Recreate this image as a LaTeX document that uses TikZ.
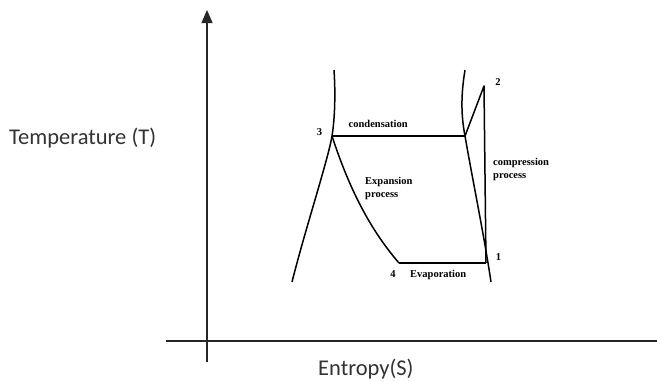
\documentclass[tikz,border=0pt]{standalone}
\usepackage{fontspec}
\setmainfont{Liberation Serif}
\newfontfamily\calib{Carlito}
\usetikzlibrary{arrows.meta}
\begin{document}
\begin{tikzpicture}[x=1pt,y=-1pt,
  axis/.style={line width=1.3pt,draw=black!85},
  curve/.style={line width=1.5pt,draw=black,line join=round},
  biglabel/.style={font=\calib\fontsize{22.5}{26}\selectfont,text=black!80,inner sep=0pt,anchor=base west},
  lbl/.style={font=\bfseries\fontsize{10.5}{13}\selectfont,text=black,inner sep=0pt,anchor=base west},
  num/.style={font=\bfseries\fontsize{10.5}{13}\selectfont,text=black,inner sep=0pt}]
\useasboundingbox (0,0) rectangle (657,381);
\fill[white] (0,0) rectangle (657,381);
% axes
\coordinate (ybot) at (207,362);
\coordinate (ytop) at (207,10);
\coordinate (xl) at (166,341);
\coordinate (xr) at (657,341);
\draw[axis,-{Triangle[length=13pt,width=11pt]}] (ybot) -- (ytop);
\draw[axis] (xl) -- (xr);
\node[biglabel] (tl) at (9,144) {Temperature (T)};
\node[biglabel] (sl) at (318,375.5) {Entropy(S)};
% cycle points
\coordinate (p1) at (486,263);
\coordinate (p2) at (484,86);
\coordinate (p3) at (332,136);
\coordinate (p4) at (399,263);
\coordinate (pc) at (465,136);
\coordinate (lt) at (334,70);
\coordinate (lb) at (292,282);
\coordinate (rt) at (465,70);
\coordinate (rb) at (491,282);
% saturation dome
\draw[curve] (lt) .. controls (336,100) and (334,124) .. (p3)
  .. controls (328,160) and (305,230) .. (lb);
\draw[curve] (rt) .. controls (460,100) and (462,120) .. (pc)
  .. controls (473,182) and (484,235) .. (rb);
% cycle
\draw[curve] (p3) -- (pc);
\draw[curve] (pc) -- (p2) -- (p1);
\draw[curve] (p1) -- (p4);
\draw[curve] (p3) .. controls (347,182) and (367,226) .. (p4);
% labels
\node[num] (n1) at (498.5,257) {1};
\node[num] (n2) at (498,82) {2};
\node[num] (n3) at (319.5,132) {3};
\node[num] (n4) at (393,274.5) {4};
\node[lbl] (cond) at (348.5,127) {condensation};
\node[lbl,align=left] (exp) at (365,197.5) {Expansion\\process};
\node[lbl,align=left] (comp) at (493,178.5) {compression\\process};
\node[lbl] (evap) at (410,277.5) {Evaporation};
\end{tikzpicture}
\end{document}
